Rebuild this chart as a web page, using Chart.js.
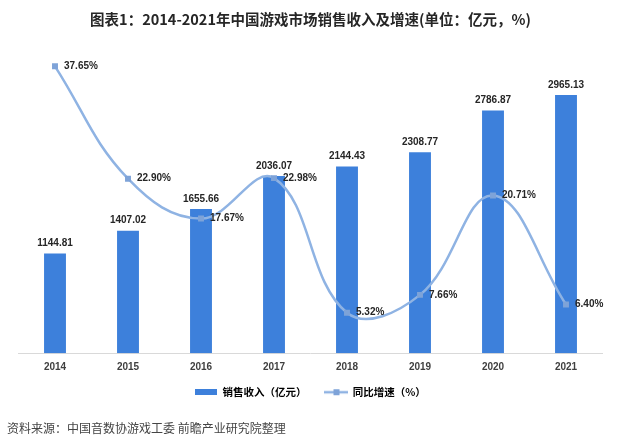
<!DOCTYPE html>
<html lang="zh-CN">
<head>
<meta charset="UTF-8">
<title>2014-2021年中国游戏市场销售收入及增速</title>
<script src="https://cdn.jsdelivr.net/npm/chart.js"></script>
<style>
    body { margin: 0; background: #fff; }
    .quadro { position: relative; width: 621px; height: 446px; }
    .fonte {
        position: absolute; left: 7px; top: 420px;
        font: 12px/16px "Noto Sans CJK SC", sans-serif; color: #444;
    }
</style>
</head>
<body>
<div class="quadro">
    <canvas id="grafico" width="621" height="446"></canvas>
    <div class="fonte">资料来源：中国音数协游戏工委 前瞻产业研究院整理</div>
</div>

<script>
    // dados
    const anos = ['2014', '2015', '2016', '2017', '2018', '2019', '2020', '2021'];
    const receita = [1144.81, 1407.02, 1655.66, 2036.07, 2144.43, 2308.77, 2786.87, 2965.13];
    const crescimento = [37.65, 22.90, 17.67, 22.98, 5.32, 7.66, 20.71, 6.40];
    const nomesSeries = ['销售收入（亿元）', '同比增速（%）'];

    const corBarra = '#3d80db';
    const corLinha = '#8fb3e3';
    const corPonto = '#7ea3d8';
    const corTexto = '#262626';
    const fonteNum = '"Liberation Sans", Arial, sans-serif';
    const fonteCjk = '"Noto Sans CJK SC", sans-serif';

    // desenhos pequenos da legenda
    function iconeBarra() {
        const c = document.createElement('canvas');
        c.width = 22; c.height = 6;
        const g = c.getContext('2d');
        g.fillStyle = corBarra;
        g.fillRect(0, 0, 22, 6);
        return c;
    }

    function iconeLinha() {
        const c = document.createElement('canvas');
        c.width = 24; c.height = 8;
        const g = c.getContext('2d');
        g.strokeStyle = corLinha;
        g.lineWidth = 2.5;
        g.beginPath();
        g.moveTo(0, 4);
        g.lineTo(24, 4);
        g.stroke();
        g.fillStyle = corPonto;
        g.fillRect(9, 1, 6, 6);
        return c;
    }

    // rótulos de valor em cima das barras e ao lado dos pontos
    const rotulos = {
        id: 'rotulos',
        afterDatasetsDraw(chart) {
            const ctx = chart.ctx;
            ctx.save();
            ctx.fillStyle = corTexto;
            ctx.font = 'bold 10px ' + fonteNum;
            ctx.textBaseline = 'middle';

            const barras = chart.getDatasetMeta(0);
            ctx.textAlign = 'center';
            barras.data.forEach((el, i) => {
                ctx.fillText(receita[i].toFixed(2), el.x, el.y - 10);
            });

            const linha = chart.getDatasetMeta(1);
            ctx.textAlign = 'left';
            linha.data.forEach((el, i) => {
                ctx.fillText(crescimento[i].toFixed(2) + '%', el.x + 9, el.y);
            });
            ctx.restore();
        }
    };

    new Chart(document.getElementById('grafico'), {
        data: {
            labels: anos,
            datasets: [{
                type: 'bar',
                label: nomesSeries[0],
                data: receita,
                backgroundColor: corBarra,
                yAxisID: 'y',
                categoryPercentage: 1,
                barPercentage: 0.3,
                order: 1
            }, {
                type: 'line',
                label: nomesSeries[1],
                data: crescimento,
                borderColor: corLinha,
                borderWidth: 2.5,
                tension: 0.4,
                pointStyle: 'rect',
                pointRadius: 4.2,
                pointBackgroundColor: corPonto,
                pointBorderWidth: 0,
                yAxisID: 'y1',
                order: 0
            }]
        },
        options: {
            responsive: false,
            animation: false,
            layout: {
                padding: { top: 4, left: 18.5, right: 18.5, bottom: 38.5 }
            },
            scales: {
                x: {
                    grid: { display: false, drawTicks: false },
                    border: { display: true, color: '#d9d9d9', width: 1 },
                    ticks: {
                        color: '#404040',
                        padding: 8,
                        font: { family: fonteNum, size: 10, weight: 'bold' }
                    },
                    // eixo mais baixo para a legenda ficar com mais respiro
                    afterFit: (escala) => { escala.height = 20; }
                },
                y: { display: false, min: 0, max: 3500 },
                y1: { display: false, min: 0, max: 40 }
            },
            plugins: {
                tooltip: { enabled: false },
                title: {
                    display: true,
                    text: '图表1：2014-2021年中国游戏市场销售收入及增速(单位：亿元，%)',
                    color: corTexto,
                    font: { family: fonteCjk, size: 14.5, weight: 'bold' },
                    padding: { top: 7, bottom: 20 }
                },
                legend: {
                    position: 'bottom',
                    labels: {
                        color: corTexto,
                        font: { family: fonteCjk, size: 10.5, weight: 'bold' },
                        usePointStyle: true,
                        pointStyleWidth: 22,
                        padding: 13.75,
                        generateLabels: () => [
                            { text: nomesSeries[0] + '\u3000', pointStyle: iconeBarra(), datasetIndex: 0, hidden: false, lineWidth: 0 },
                            { text: nomesSeries[1], pointStyle: iconeLinha(), datasetIndex: 1, hidden: false, lineWidth: 0 }
                        ]
                    }
                }
            }
        },
        plugins: [rotulos]
    });
</script>
</body>
</html>
